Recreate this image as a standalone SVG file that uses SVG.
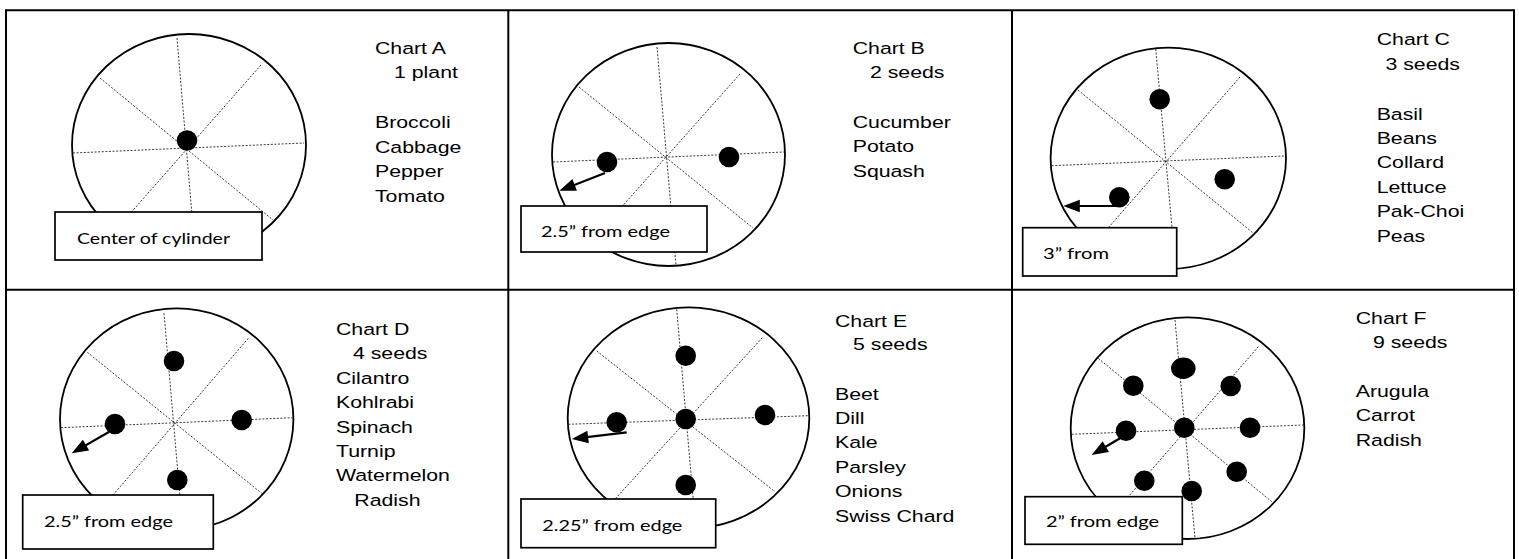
<svg xmlns="http://www.w3.org/2000/svg" width="1519" height="559" viewBox="0 0 1519 559">
<style>
.grid{stroke:#000;stroke-width:2;fill:none}
.rim{fill:#fff;stroke:#000;stroke-width:1.8}
.spoke{stroke:#222;stroke-width:0.9;stroke-dasharray:2 1.6;fill:none}
.dot{fill:#000}
.box{fill:#fff;stroke:#000;stroke-width:1.7}
.t{font-family:"Liberation Sans",Arial,sans-serif;font-size:21.3px;fill:#000}
.bt{font-family:Lato,"Noto Sans",sans-serif;font-size:19.5px;fill:#000}
.arr{stroke:#000;stroke-width:2.2;fill:none;marker-end:url(#ah)}
</style>
<defs>
<marker id="ah" markerUnits="userSpaceOnUse" markerWidth="18" markerHeight="13" refX="12" refY="6.25" orient="auto" overflow="visible">
<path d="M0,0 L16.5,6.25 L0,12.5 Z" fill="#000"/>
</marker>
</defs>
<rect width="1519" height="559" fill="#fff"/>
<g id="table" class="grid">
<line x1="6" y1="10.2" x2="1514" y2="10.2"/>
<line x1="6" y1="289.7" x2="1514" y2="289.7"/>
<line x1="6" y1="9.2" x2="6" y2="560"/>
<line x1="508.3" y1="10" x2="508.3" y2="560"/>
<line x1="1012" y1="10" x2="1012" y2="560"/>
<line x1="1514" y1="9.2" x2="1514" y2="560"/>
</g>

<g id="chartA">
<ellipse class="rim" cx="189" cy="145" rx="117" ry="111"/>
<g class="spoke">
<line x1="177" y1="38" x2="195" y2="250"/>
<line x1="100" y1="78" x2="273" y2="220"/>
<line x1="261" y1="65" x2="120" y2="225"/>
<line x1="73" y1="153" x2="304" y2="143"/>
</g>
<circle class="dot" cx="187" cy="140.5" r="10.3"/>
<rect class="box" x="55" y="212" width="207" height="48"/>
<g transform="scale(1,0.8)">
<text class="bt" x="77" y="305" textLength="153" lengthAdjust="spacingAndGlyphs">Center of cylinder</text>
<text class="t" x="375" y="67.5">Chart A</text>
<text class="t" x="394" y="97.5">1 plant</text>
<text class="t" x="375" y="160.4">Broccoli</text>
<text class="t" x="375" y="190.9">Cabbage</text>
<text class="t" x="375" y="221.4">Pepper</text>
<text class="t" x="375" y="251.9">Tomato</text>
</g>
</g>

<g id="chartB">
<ellipse class="rim" cx="668.5" cy="154.5" rx="116.5" ry="111.5"/>
<g class="spoke">
<line x1="657" y1="47" x2="676" y2="265"/>
<line x1="579" y1="87" x2="753" y2="228"/>
<line x1="740" y1="74" x2="610" y2="220"/>
<line x1="553" y1="162" x2="784" y2="152"/>
</g>
<circle class="dot" cx="607" cy="162" r="10.3"/>
<circle class="dot" cx="729" cy="157" r="10.3"/>
<rect class="box" x="521" y="206" width="186" height="46"/>
<g transform="scale(1,0.8)">
<text class="bt" x="541" y="295.9" textLength="129" lengthAdjust="spacingAndGlyphs">2.5” from edge</text>
<text class="t" x="852.7" y="67.5">Chart B</text>
<text class="t" x="870" y="96.9">2 seeds</text>
<text class="t" x="852.7" y="160.4">Cucumber</text>
<text class="t" x="852.7" y="190.6">Potato</text>
<text class="t" x="852.7" y="221.1">Squash</text>
</g>
</g>

<g id="chartC">
<ellipse class="rim" cx="1168.3" cy="158.3" rx="117.7" ry="110.7"/>
<g class="spoke">
<line x1="1155.7" y1="49" x2="1175" y2="260"/>
<line x1="1078" y1="90" x2="1252.7" y2="232.7"/>
<line x1="1240" y1="77" x2="1095" y2="243"/>
<line x1="1051.7" y1="165.7" x2="1285" y2="156"/>
</g>
<circle class="dot" cx="1159.7" cy="99.3" r="10.3"/>
<circle class="dot" cx="1224.7" cy="179.3" r="10.3"/>
<circle class="dot" cx="1119.3" cy="197.3" r="10.3"/>
<rect class="box" x="1022.7" y="227.7" width="154" height="48.3"/>
<g transform="scale(1,0.8)">
<text class="bt" x="1043" y="323.75" textLength="66" lengthAdjust="spacingAndGlyphs">3” from</text>
<text class="t" x="1376.7" y="56.25">Chart C</text>
<text class="t" x="1385.5" y="86.9">3 seeds</text>
<text class="t" x="1376.7" y="149.4">Basil</text>
<text class="t" x="1376.7" y="180">Beans</text>
<text class="t" x="1376.7" y="210.4">Collard</text>
<text class="t" x="1376.7" y="240.9">Lettuce</text>
<text class="t" x="1376.7" y="271.4">Pak-Choi</text>
<text class="t" x="1376.7" y="301.9">Peas</text>
</g>
</g>

<g id="chartD">
<ellipse class="rim" cx="176.7" cy="419.3" rx="116.7" ry="111"/>
<g class="spoke">
<line x1="164" y1="313.3" x2="182" y2="520"/>
<line x1="87.3" y1="352.3" x2="261.7" y2="493.3"/>
<line x1="248.3" y1="338.3" x2="100" y2="510"/>
<line x1="61" y1="427.7" x2="292.7" y2="417.7"/>
</g>
<circle class="dot" cx="174" cy="361" r="10.3"/>
<circle class="dot" cx="115" cy="424" r="10.3"/>
<circle class="dot" cx="241.7" cy="420" r="10.3"/>
<circle class="dot" cx="177.3" cy="480" r="10.3"/>
<rect class="box" x="22.7" y="495" width="190.6" height="54"/>
<g transform="scale(1,0.8)">
<text class="bt" x="44" y="659.1" textLength="129" lengthAdjust="spacingAndGlyphs">2.5” from edge</text>
<text class="t" x="336" y="418.75">Chart D</text>
<text class="t" x="353" y="449.25">4 seeds</text>
<text class="t" x="336" y="479.75">Cilantro</text>
<text class="t" x="336" y="510.25">Kohlrabi</text>
<text class="t" x="336" y="540.75">Spinach</text>
<text class="t" x="336" y="571.25">Turnip</text>
<text class="t" x="336" y="601.75">Watermelon</text>
<text class="t" x="354.3" y="632.25">Radish</text>
</g>
</g>

<g id="chartE">
<ellipse class="rim" cx="688.5" cy="418" rx="120.8" ry="110.6"/>
<g class="spoke">
<line x1="676.7" y1="309.3" x2="695" y2="520"/>
<line x1="596.7" y1="351" x2="775" y2="491.7"/>
<line x1="762.3" y1="337.7" x2="605" y2="510"/>
<line x1="568.3" y1="424.3" x2="808.3" y2="415.7"/>
</g>
<circle class="dot" cx="685.7" cy="355.7" r="10.3"/>
<circle class="dot" cx="616.7" cy="422.3" r="10.3"/>
<circle class="dot" cx="685.7" cy="419" r="10.3"/>
<circle class="dot" cx="765" cy="415" r="10.3"/>
<circle class="dot" cx="685.7" cy="485" r="10.3"/>
<rect class="box" x="521" y="499" width="194.7" height="48.7"/>
<g transform="scale(1,0.8)">
<text class="bt" x="542.3" y="663.75" textLength="140" lengthAdjust="spacingAndGlyphs">2.25” from edge</text>
<text class="t" x="835" y="408.4">Chart E</text>
<text class="t" x="853" y="438.1">5 seeds</text>
<text class="t" x="835" y="499.4">Beet</text>
<text class="t" x="835" y="529.9">Dill</text>
<text class="t" x="835" y="560.4">Kale</text>
<text class="t" x="835" y="590.9">Parsley</text>
<text class="t" x="835" y="621.4">Onions</text>
<text class="t" x="835" y="651.9">Swiss Chard</text>
</g>
</g>

<g id="chartF">
<ellipse class="rim" cx="1187.5" cy="428.2" rx="116.8" ry="110.8"/>
<g class="spoke">
<line x1="1175" y1="320" x2="1195" y2="538.3"/>
<line x1="1098.3" y1="358.3" x2="1271.7" y2="501.7"/>
<line x1="1258.3" y1="346.7" x2="1115" y2="512"/>
<line x1="1071.7" y1="434.3" x2="1303.3" y2="425"/>
</g>
<ellipse class="dot" cx="1183.3" cy="368.3" rx="12.3" ry="10.7"/>
<circle class="dot" cx="1133.3" cy="385.7" r="10.3"/>
<circle class="dot" cx="1230.7" cy="386" r="10.3"/>
<circle class="dot" cx="1126" cy="430.7" r="10.3"/>
<circle class="dot" cx="1184.3" cy="427.7" r="10.3"/>
<circle class="dot" cx="1250" cy="427.7" r="10.3"/>
<circle class="dot" cx="1144.3" cy="480.7" r="10.3"/>
<circle class="dot" cx="1191.7" cy="491" r="10.3"/>
<circle class="dot" cx="1236.7" cy="471.7" r="10.3"/>
<rect class="box" x="1025" y="496.7" width="157.3" height="47.6"/>
<g transform="scale(1,0.8)">
<text class="bt" x="1046" y="659.1" textLength="113" lengthAdjust="spacingAndGlyphs">2” from edge</text>
<text class="t" x="1355.7" y="405.4">Chart F</text>
<text class="t" x="1373" y="435.6">9 seeds</text>
<text class="t" x="1355.7" y="496.25">Arugula</text>
<text class="t" x="1355.7" y="526.75">Carrot</text>
<text class="t" x="1355.7" y="557.25">Radish</text>
</g>
</g>

<g id="connectors">
<line class="arr" x1="605" y1="173" x2="563.5" y2="189.2"/>
<line class="arr" x1="1120" y1="206" x2="1067.8" y2="206"/>
<line class="arr" x1="109.3" y1="431.7" x2="75.6" y2="451.1"/>
<line class="arr" x1="626.7" y1="432.3" x2="576.2" y2="438.4"/>
<line class="arr" x1="1120" y1="438.3" x2="1095.5" y2="452.8"/>
</g>
</svg>
